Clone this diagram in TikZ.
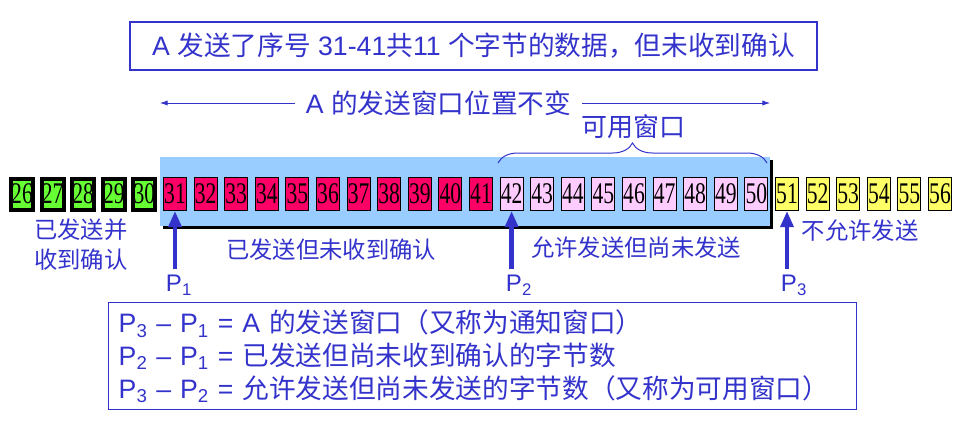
\documentclass[tikz,border=0pt]{standalone}
\usepackage{fontspec}
\setmainfont{Liberation Sans}
\newfontfamily\cjk{Noto Sans CJK SC}
\newfontfamily\numfont{Liberation Serif}[FakeStretch=0.72]
\usetikzlibrary{arrows.meta,decorations.pathreplacing,shadows}
\definecolor{txtblue}{RGB}{51,51,204}
\definecolor{winblue}{RGB}{153,204,255}
\definecolor{ackgreen}{RGB}{102,255,51}
\definecolor{sentred}{RGB}{255,0,102}
\definecolor{freepink}{RGB}{255,204,255}
\definecolor{notyellow}{RGB}{255,255,102}
\tikzset{
  cell/.style={draw=black, line width=0.75pt, minimum width=17.25pt, minimum height=24.75pt,
    inner sep=0pt, font=\numfont\fontsize{22.5}{22.5}\selectfont},
  acked/.style={cell, fill=ackgreen, line width=3pt, minimum width=16.5pt, minimum height=23.25pt},
  unacked/.style={cell, fill=sentred},
  usable/.style={cell, fill=freepink},
  blocked/.style={cell, fill=notyellow},
  winbox/.style={fill=winblue, minimum width=457.5pt, minimum height=51.75pt, inner sep=0pt,
    drop shadow={fill=black, opacity=1, shadow xshift=2.25pt, shadow yshift=-2.25pt}},
  framed/.style={draw=txtblue, line width=1.1pt, text=txtblue},
  lbl/.style={text=txtblue, font=\cjk\fontsize{17.5}{19.5}\selectfont, align=center, inner sep=0pt},
  pname/.style={text=txtblue, font=\fontsize{18}{18}\selectfont, inner sep=0pt},
  ptr/.style={draw=txtblue, line width=3.2pt, -{Triangle[length=12pt,width=9.5pt]}},
  thinptr/.style={draw=txtblue, line width=0.75pt, -{Latex[length=6pt,width=4pt]}},
}
\begin{document}
\begin{tikzpicture}[x=0.75pt, y=-0.75pt]
  \useasboundingbox (0,0) rectangle (961,440);

  \node[framed, minimum width=515pt, minimum height=36pt, font=\fontsize{20}{20}\selectfont]
    (title) at (473.5,46) {A {\cjk 发送了序号} 31-41{\cjk 共}11 {\cjk 个字节的数据，但未收到确认}};

  \node[winbox] (window) at (465,191.5) {};

  \node[text=txtblue, inner xsep=8pt, font=\fontsize{20}{20}\selectfont]
    (fixed) at (438.5,103) {A {\cjk 的发送窗口位置不变}};
  \draw[thinptr] (fixed.west) -- (fixed.west -| window.west);
  \draw[thinptr] (fixed.east) -- (fixed.east -| window.east);

  \foreach \kind/\first/\last in {acked/26/30, unacked/31/41, usable/42/50, blocked/51/56}
  {
    \foreach \n in {\first,...,\last}
    {
      \pgfmathsetmacro\cx{22+30.6*(\n-26)}
      \node[\kind] (c\n) at (\cx,194) {\n};
    }
  }

  % usable part of the window
  \coordinate (bl) at (498,163);
  \coordinate (br) at (767,163);
  \draw[txtblue, line width=0.75pt, decorate, decoration={brace, amplitude=15pt}] (bl) -- (br);
  \node[lbl, font=\cjk\fontsize{19.5}{19.5}\selectfont] (avail) at (633,127) {可用窗口};

  \node[lbl] (done) at (81,245) {已发送并\\[3pt]收到确认};
  \node[lbl] (sent) at (331,250) {已发送但未收到确认};
  \node[lbl] (allowed) at (636,248) {允许发送但尚未发送};
  \node[lbl] (denied) at (860,231) {不允许发送};

  \foreach \i/\c/\px in {1/31/179, 2/42/519, 3/51/794}
  {
    \node[pname] (p\i) at (\px,285) {P\textsubscript{\i}};
    \draw[ptr] ([yshift=4pt]p\i.north -| c\c) -- (c\c.south);
  }

  \node[framed, anchor=north west, minimum width=561pt, minimum height=80.25pt, text width=546pt,
    inner xsep=7.5pt, align=left, font=\fontsize{20}{24.4}\selectfont] (sum) at (108,302)
    {P\textsubscript{3} -- P\textsubscript{1} = A {\cjk 的发送窗口（又称为通知窗口）}\\
     P\textsubscript{2} -- P\textsubscript{1} = {\cjk 已发送但尚未收到确认的字节数}\\
     P\textsubscript{3} -- P\textsubscript{2} = {\cjk 允许发送但尚未发送的字节数（又称为可用窗口）}};
\end{tikzpicture}
\end{document}
